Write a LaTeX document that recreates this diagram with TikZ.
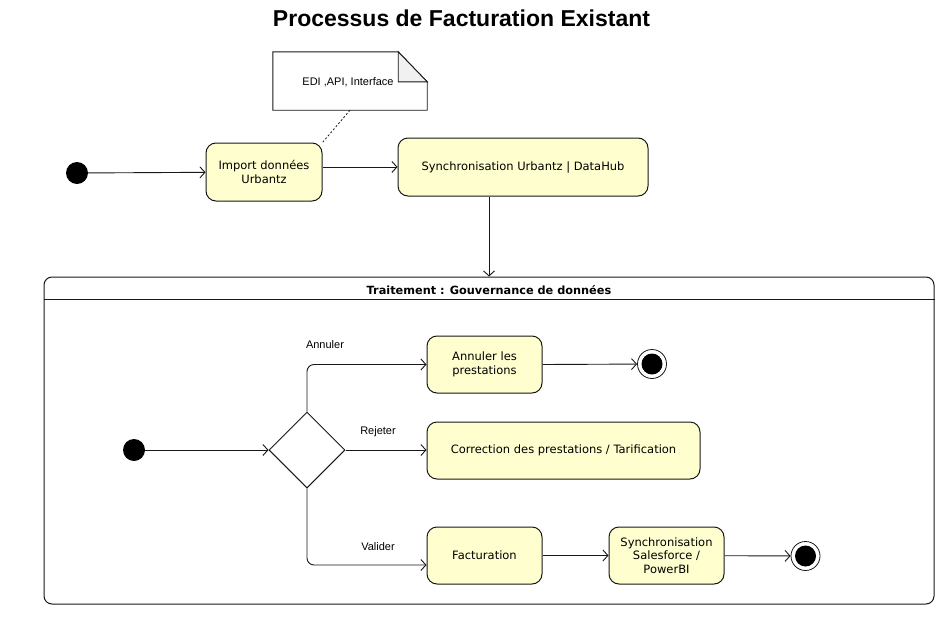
\documentclass[tikz,border=0pt]{standalone}
\usepackage{fontspec}
\setmainfont{DejaVu Sans}
\newfontfamily\arialf{Liberation Sans}
\usetikzlibrary{arrows.meta,shapes.geometric,calc}
\definecolor{nodefill}{HTML}{FEFECE}
\definecolor{edgec}{HTML}{181818}
\definecolor{foldfill}{HTML}{F1F1F1}
\begin{document}
\begin{tikzpicture}[x=1pt,y=-1pt,
  act/.style={draw=edgec, line width=1pt, fill=nodefill, rounded corners=10pt, align=center,
    font=\fontsize{11.5}{13.5}\selectfont, inner sep=0pt},
  flow/.style={draw=edgec, line width=0.9pt, -{Straight Barb[length=5pt,width=11pt]}},
  startdot/.style={circle, fill=black, minimum size=22pt, inner sep=0pt},
  enddot/.style={circle, draw=edgec, line width=0.8pt, fill=white, minimum size=29pt, inner sep=0pt,
    path picture={\fill[black] (path picture bounding box.center) circle (10.5pt);}},
  guard/.style={font=\arialf\fontsize{11}{13}\selectfont, inner sep=0pt},
]
\useasboundingbox (0,0) rectangle (951,632);

% title
\node[font=\arialf\bfseries\fontsize{23}{26}\selectfont, inner sep=0pt] (title) at (461.5,18) {Processus de Facturation Existant};

% top flow
\node[startdot] (s0) at (77,173) {};
\node[act, minimum width=116pt, minimum height=58pt] (imp) at (264,172) {Import données\\Urbantz};
\node[act, minimum width=250pt, minimum height=58pt] (sync) at (523,167) {Synchronisation Urbantz | DataHub};

% note
\node[minimum width=154pt, minimum height=58pt, inner sep=0pt] (note) at (350,81) {};
\draw[draw=edgec, line width=0.9pt, fill=white]
  (note.south west) -- (note.north west) -- ($(note.north east)+(-29,0)$) -- ($(note.north east)+(0,30)$) -- (note.south east) -- cycle;
\draw[draw=edgec, line width=0.9pt, fill=foldfill]
  ($(note.north east)+(-29,0)$) -- ($(note.north east)+(-29,30)$) -- ($(note.north east)+(0,30)$) -- cycle;
\node[font=\arialf\fontsize{11}{13}\selectfont, inner sep=0pt] (notetext) at (348,82) {EDI ,API, Interface};
\draw[draw=edgec, line width=0.8pt, dash pattern=on 2pt off 2pt] (note.south) -- (imp.north east);

\draw[flow] (s0) -- (imp);
\draw[flow] (imp.east |- sync.west) -- (sync.west);

% container
\node[draw=edgec, line width=1pt, rounded corners=8pt, minimum width=890pt, minimum height=327pt, inner sep=0pt] (cont) at (489,440.5) {};
\draw[draw=edgec, line width=1pt] ($(cont.north west)+(0,23)$) -- ($(cont.north east)+(0,23)$);
\node[font=\bfseries\fontsize{11.3}{13}\selectfont, inner sep=0pt] (conttitle) at (489,290) {Traitement : Gouvernance de données};
\draw[flow] (sync.south -| cont.north) -- (cont.north);

% inner flow
\node[startdot] (s1) at (134,450) {};
\node[diamond, draw=edgec, line width=1pt, fill=white, minimum width=76pt, minimum height=76pt, inner sep=0pt] (dia) at (307,450) {};
\node[act, minimum width=115pt, minimum height=57pt] (ann) at (484.5,364.5) {Annuler les\\prestations};
\node[act, minimum width=273pt, minimum height=57pt] (corr) at (563.5,450.5) {Correction des prestations / Tarification};
\node[act, minimum width=115pt, minimum height=57pt] (fact) at (484.5,555.5) {Facturation};
\node[act, minimum width=115pt, minimum height=57pt] (sf) at (666.5,555.5) {Synchronisation\\Salesforce /\\PowerBI};
\node[enddot] (e1) at (652,364) {};
\node[enddot] (e2) at (805.5,556) {};

\draw[flow] (s1) -- (dia.west);
\draw[flow, rounded corners=7pt] (dia.north) |- (ann.west);
\draw[flow] (dia.east) -- (dia.east -| corr.west);
\draw[flow, rounded corners=7pt] (dia.south) |- ($(fact.west)+(0,9.5)$);
\draw[flow] (ann.east) -- (e1);
\draw[flow] (fact) -- (sf);
\draw[flow] (sf) -- (e2);

\node[guard] (lann) at (325,345) {Annuler};
\node[guard] (lrej) at (378,432) {Rejeter};
\node[guard] (lval) at (378,547) {Valider};
\end{tikzpicture}
\end{document}
